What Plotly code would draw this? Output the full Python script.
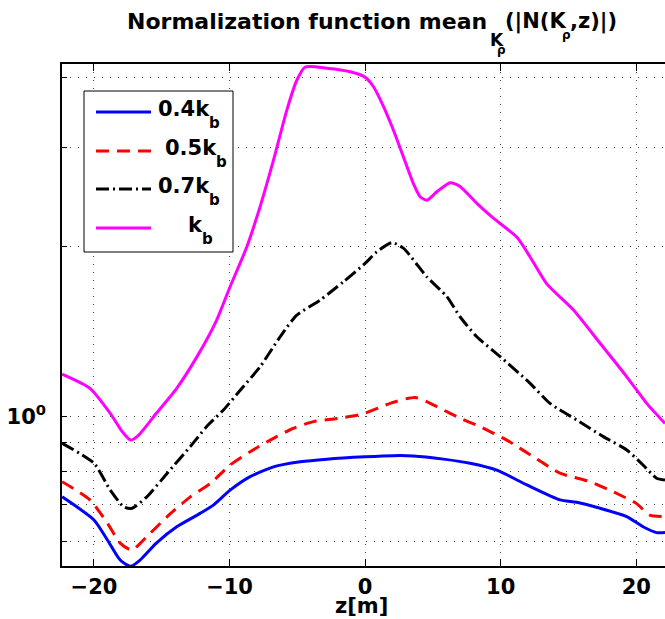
import plotly.graph_objects as go

# ---- data ----
z_kb = [-22.35, -20.3, -18.8, -17.9, -17.3, -16.7, -15.4, -13.9, -12.4, -10.95, -9.96, -8.73,
        -7.74, -6.76, -5.77, -5.04, -4.42, -2.82, -1.1, 0.0, 0.61, 1.35, 2.09, 2.82, 3.56,
        4.06, 4.55, 5.29, 6.27, 7.0, 8.24, 9.46, 11.2, 12.17, 13.4, 15.37, 17.33, 19.3, 20.77, 22.12]
v_kb = [1.19, 1.123, 1.014, 0.94, 0.909, 0.928, 1.014, 1.123, 1.278, 1.484, 1.70, 2.0,
        2.36, 2.85, 3.50, 3.95, 4.17, 4.15, 4.09, 4.0, 3.85, 3.55, 3.22, 2.89, 2.59,
        2.455, 2.42, 2.505, 2.60, 2.56, 2.39, 2.25, 2.08, 1.92, 1.72, 1.546, 1.35, 1.177, 1.056, 0.973]

z_07 = [-22.35, -20.0, -18.8, -17.8, -17.2, -16.1, -14.6, -12.9, -11.7, -10.45, -9.2, -7.74,
        -6.27, -5.04, -3.32, -1.6, 0.0, 0.86, 1.97, 2.82, 4.55, 6.03, 7.0, 8.24, 9.96,
        12.17, 13.64, 15.6, 17.57, 19.3, 20.5, 21.5, 22.12]
v_07 = [0.897, 0.827, 0.741, 0.692, 0.688, 0.721, 0.794, 0.885, 0.96, 1.028, 1.115, 1.227,
        1.386, 1.514, 1.61, 1.735, 1.87, 1.96, 2.035, 1.99, 1.77, 1.633, 1.504, 1.386, 1.278,
        1.146, 1.056, 0.987, 0.922, 0.873, 0.821, 0.778, 0.772]

z_05 = [-22.35, -20.3, -19.0, -18.07, -17.2, -16.1, -14.6, -12.9, -11.4, -9.96, -8.48, -7.0,
        -5.29, -3.82, -2.09, -0.25, 1.84, 3.69, 5.29, 6.76, 8.48, 10.45, 12.41, 14.38, 16.6,
        18.56, 20.0, 21.0, 22.12]
v_05 = [0.767, 0.712, 0.647, 0.597, 0.580, 0.613, 0.665, 0.721, 0.762, 0.821, 0.867, 0.909,
        0.954, 0.98, 0.993, 1.01, 1.056, 1.082, 1.042, 1.0, 0.96, 0.909, 0.849, 0.794, 0.767,
        0.731, 0.702, 0.669, 0.665]

z_04 = [-22.35, -20.0, -19.0, -18.07, -17.3, -16.6, -15.4, -13.9, -12.17, -11.2, -9.96, -8.48,
        -6.76, -4.79, -2.82, 0.0, 2.09, 3.56, 5.78, 7.74, 9.71, 11.93, 14.38, 15.6, 17.33,
        19.3, 20.5, 21.5, 22.12]
v_04 = [0.721, 0.656, 0.604, 0.557, 0.543, 0.557, 0.597, 0.638, 0.674, 0.697, 0.741, 0.783,
        0.815, 0.832, 0.841, 0.849, 0.853, 0.852, 0.841, 0.827, 0.804, 0.757, 0.712, 0.705, 0.688,
        0.665, 0.638, 0.623, 0.623]

x_ticks = [-20, -10, 0, 10, 20]
y_grid = [0.6, 0.7, 0.8, 0.9, 1, 2, 3, 4]
y_labels = ["", "", "", "", "10<sup>0</sup>", "", "", ""]
legend_main = ["0.4k", "0.5k", "0.7k", "k"]
legend_sub = ["b", "b", "b", "b"]

# ---- styles ----
W, H = 665, 619
L, R, T, B = 62, 0, 64, 53
FONT = "DejaVu Sans"
series = [
    (z_04, v_04, "#0000FF", "solid"),
    (z_05, v_05, "#FF0000", "13px,8px"),
    (z_07, v_07, "#000000", "13px,4px,2px,4px"),
    (z_kb, v_kb, "#FF00FF", "solid"),
]

def px(x):
    return (x - L) / (W - L - R)

def py(y):
    return (H - B - y) / (H - T - B)

fig = go.Figure()
for zs, vs, col, dash in series:
    fig.add_trace(go.Scatter(x=zs, y=vs, mode="lines", showlegend=False,
                             line=dict(color=col, width=3, dash=dash,
                                       shape="spline", smoothing=0.6)))

ann = []
def text(s, x, y, size=21, anchor="left"):
    ann.append(dict(text=s, x=px(x), y=py(y), xref="paper", yref="paper",
                    xanchor=anchor, yanchor="middle", showarrow=False,
                    font=dict(family=FONT, size=size, color="black", weight="bold")))

# title pieces
text("Normalization function mean", 489, 21, size=22, anchor="right")
text("K", 488, 40, size=17)
text("ρ", 495, 50, size=12)
text("(|N(K", 503, 21)
text("ρ", 560, 35, size=12)
text(",z)|)", 568, 21)
# x label
text("z[m]", 361, 606, anchor="center")

shapes = [dict(type="rect", xref="paper", yref="paper", x0=px(84), x1=px(233),
               y0=py(252), y1=py(91), fillcolor="white",
               line=dict(color="black", width=1), layer="above")]
ly = [112, 151, 189, 228]
tx = [156, 163, 156, 186]
for i, (zs, vs, col, dash) in enumerate(series):
    shapes.append(dict(type="line", xref="paper", yref="paper", x0=px(96), x1=px(151),
                       y0=py(ly[i]), y1=py(ly[i]), line=dict(color=col, width=3, dash=dash),
                       layer="above"))
    text(legend_main[i], tx[i], ly[i] - 3)
    sub_x = tx[i] + (51 if i < 3 else 14)
    text(legend_sub[i], sub_x, ly[i] + 11, size=15)

fig.update_layout(
    width=W, height=H, margin=dict(l=L, r=R, t=T, b=B, pad=0),
    paper_bgcolor="white", plot_bgcolor="white",
    annotations=ann, shapes=shapes,
    xaxis=dict(range=[-22.36, 22.12], tickvals=x_ticks, ticks="inside", ticklen=7,
               tickwidth=1, tickcolor="black", showline=True, linecolor="black", linewidth=1.5,
               mirror="ticks", showgrid=True, gridcolor="#444", griddash="1px,7px", gridwidth=1,
               zeroline=False, tickfont=dict(family=FONT, size=21, color="black", weight="bold"),
               ticklabelstandoff=1),
    yaxis=dict(type="log", range=[-0.2647, 0.6254], tickvals=y_grid, ticktext=y_labels,
               ticks="inside", ticklen=5, tickwidth=1, tickcolor="black", showline=True,
               linecolor="black", linewidth=1.5, mirror=False, showgrid=True, gridcolor="#444",
               griddash="1px,7px", gridwidth=1, zeroline=False,
               tickfont=dict(family=FONT, size=21, color="black", weight="bold"),
               ticklabelstandoff=10),
)
fig.write_html("out.html")
